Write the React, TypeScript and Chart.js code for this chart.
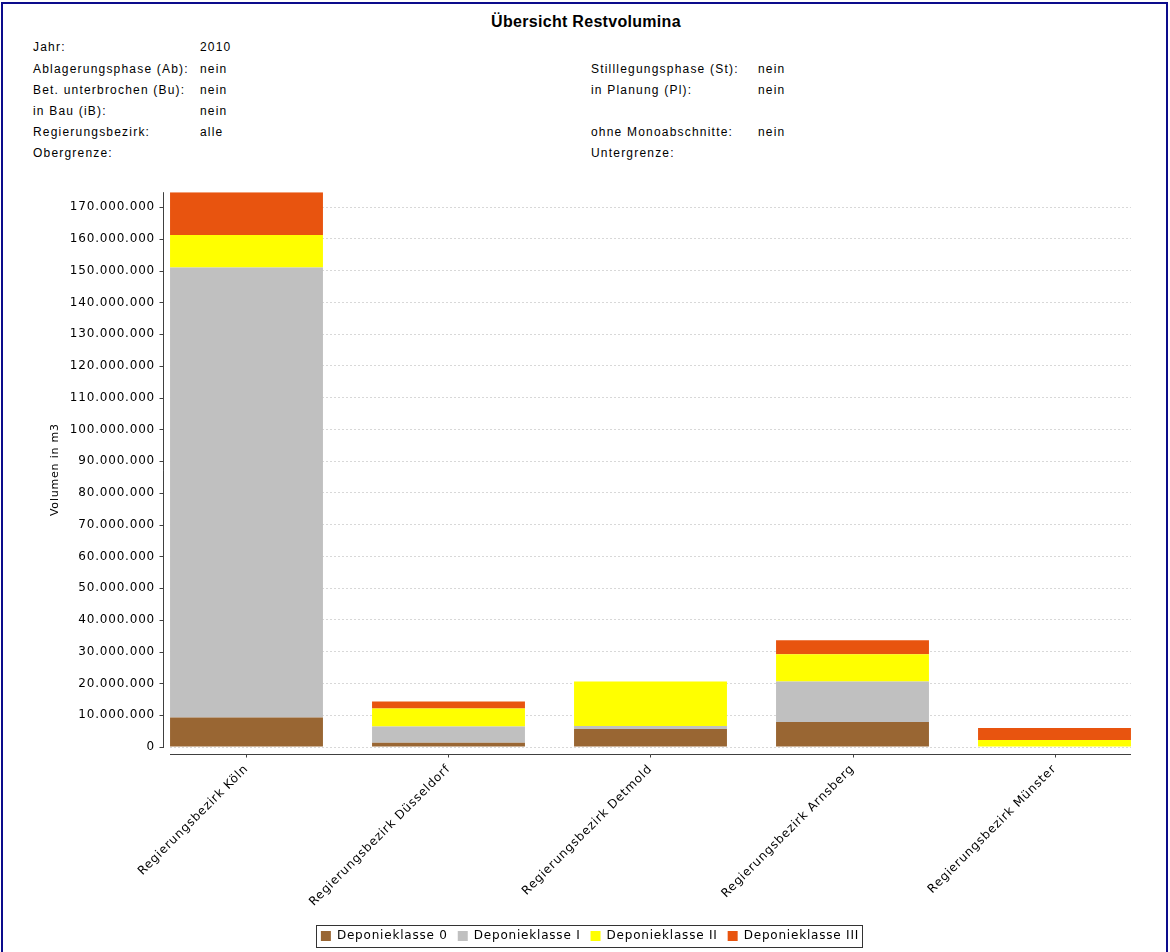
import React, { useEffect, useRef } from 'react';
import { Chart, registerables } from 'chart.js';

Chart.register(...registerables);

const categories = [
  'Regierungsbezirk Köln',
  'Regierungsbezirk Düsseldorf',
  'Regierungsbezirk Detmold',
  'Regierungsbezirk Arnsberg',
  'Regierungsbezirk Münster',
];
const seriesNames = ['Deponieklasse 0', 'Deponieklasse I', 'Deponieklasse II', 'Deponieklasse III'];
const klasse0 = [9300000, 1350000, 5650000, 7850000, 0];
const klasse1 = [141700000, 5100000, 950000, 12750000, 0];
const klasse2 = [10200000, 5650000, 14000000, 8600000, 2200000];
const klasse3 = [13500000, 2200000, 0, 4400000, 3750000];
const seriesColors = ['#996633', '#c0c0c0', '#ffff00', '#e8540f'];

const yMax = 174700000;
const yStep = 10000000;
const yTitle = 'Volumen in m3';
const chartTitle = 'Übersicht Restvolumina';

const headerLeft: [string, string][] = [
  ['Jahr:', '2010'],
  ['Ablagerungsphase (Ab):', 'nein'],
  ['Bet. unterbrochen (Bu):', 'nein'],
  ['in Bau (iB):', 'nein'],
  ['Regierungsbezirk:', 'alle'],
  ['Obergrenze:', ''],
];
const headerRight: [string, string][] = [
  ['', ''],
  ['Stilllegungsphase (St):', 'nein'],
  ['in Planung (Pl):', 'nein'],
  ['', ''],
  ['ohne Monoabschnitte:', 'nein'],
  ['Untergrenze:', ''],
];
const rowCenters = [47, 69, 90, 111, 132, 153];

const fmt = (v: number) =>
  Math.round(v).toString().replace(/\B(?=(\d{3})+(?!\d))/g, '.');

const tickFont = { family: 'DejaVu Sans', size: 12 };
const AXIS_COLOR = '#404040';

const jfreePlugin = {
  id: 'jfreeAxes',
  beforeUpdate(chart: any) {
    chart.ctx.letterSpacing = '0.8px';
  },
  beforeDraw(chart: any) {
    chart.ctx.letterSpacing = '0.8px';
  },
  afterDraw(chart: any) {
    const { ctx, chartArea, scales } = chart;
    ctx.save();
    ctx.strokeStyle = AXIS_COLOR;
    ctx.lineWidth = 1;
    const line = (x1: number, y1: number, x2: number, y2: number) => {
      ctx.beginPath();
      ctx.moveTo(x1, y1);
      ctx.lineTo(x2, y2);
      ctx.stroke();
    };
    const yx = Math.round(chartArea.left) - 6.5;
    line(yx, chartArea.top, yx, chartArea.bottom + 1);
    scales.y.ticks.forEach((t: any) => {
      const py = Math.round(scales.y.getPixelForValue(t.value)) + 0.5;
      line(yx - 4, py, yx, py);
    });
    const xy = Math.round(chartArea.bottom) + 7.5;
    line(chartArea.left, xy, chartArea.right, xy);
    categories.forEach((_, i) => {
      const px = Math.round(scales.x.getPixelForValue(i)) + 0.5;
      line(px, xy, px, xy + 3);
    });
    const hb = chart.legend && chart.legend.legendHitBoxes;
    if (hb && hb.length) {
      const first = hb[0];
      const last = hb[hb.length - 1];
      ctx.strokeStyle = '#333333';
      ctx.strokeRect(
        Math.round(first.left - 5) + 0.5,
        Math.round(first.top - 5) + 0.5,
        Math.round(last.left + last.width + 3 - (first.left - 5)),
        Math.round(first.height + 10)
      );
    }
    ctx.restore();
  },
};

function ChartCanvas() {
  const ref = useRef<HTMLCanvasElement | null>(null);
  useEffect(() => {
    if (!ref.current) return;
    const series = [klasse0, klasse1, klasse2, klasse3];
    const chart = new Chart(ref.current, {
      type: 'bar',
      data: {
        datasets: series.map((vals, si) => ({
          label: seriesNames[si],
          data: vals.map((v, i) => ({ x: i, y: v })),
          backgroundColor: seriesColors[si],
          borderWidth: 0,
          barPercentage: 0.757,
          categoryPercentage: 1,
        })),
      },
      options: {
        responsive: false,
        animation: false,
        layout: { padding: { top: 20, left: 0, right: 0, bottom: 0 } },
        plugins: {
          legend: {
            position: 'bottom',
            labels: {
              boxWidth: 10,
              boxHeight: 10,
              padding: 10,
              font: tickFont,
              color: '#000',
            },
          },
          tooltip: { enabled: false },
          title: { display: false },
        },
        scales: {
          x: {
            type: 'linear',
            min: -0.3787,
            max: 4.3787,
            bounds: 'data',
            offset: false,
            stacked: true,
            grid: { display: false, drawTicks: false, offset: false },
            border: { display: false },
            afterBuildTicks: (s: any) => {
              s.ticks = categories.map((_, i) => ({ value: i }));
            },
            afterFit: (s: any) => {
              s.height = 173;
            },
            ticks: {
              autoSkip: false,
              minRotation: 45,
              maxRotation: 45,
              padding: 15,
              font: tickFont,
              color: '#000',
              callback: (v: any) => categories[v] ?? '',
            },
          },
          y: {
            stacked: true,
            min: 0,
            max: yMax,
            grid: { color: '#d8d8d8', drawTicks: false },
            border: { display: false, dash: [2, 2] },
            afterBuildTicks: (s: any) => {
              const t: any[] = [];
              for (let v = 0; v <= yMax; v += yStep) t.push({ value: v });
              s.ticks = t;
            },
            ticks: {
              padding: 15,
              font: tickFont,
              color: '#000',
              callback: (v: any) => fmt(Number(v)),
            },
            title: {
              display: true,
              text: yTitle,
              padding: { top: 49, bottom: 0 },
              font: { family: 'DejaVu Sans', size: 11 },
              color: '#000',
            },
            afterFit: (s: any) => {
              s.width = 170;
            },
          },
          y2: {
            position: 'right',
            display: true,
            grid: { display: false, drawTicks: false },
            border: { display: false },
            ticks: { display: false },
            afterFit: (s: any) => {
              s.width = 49;
            },
          },
        },
      } as any,
      plugins: [jfreePlugin],
    });
    return () => chart.destroy();
  }, []);
  return (
    <canvas
      ref={ref}
      width={1180}
      height={782}
      style={{ position: 'absolute', left: 0, top: 170, width: 1180, height: 782 }}
    />
  );
}

const headerStyle: React.CSSProperties = {
  position: 'absolute',
  fontFamily: '"Liberation Sans", Arial, sans-serif',
  fontSize: 12,
  letterSpacing: '1.2px',
  lineHeight: '14px',
  whiteSpace: 'nowrap',
  color: '#000',
};

export default function App() {
  const cols = [33, 200, 591, 758];
  const cells: React.ReactNode[] = [];
  rowCenters.forEach((cy, r) => {
    const texts = [headerLeft[r][0], headerLeft[r][1], headerRight[r][0], headerRight[r][1]];
    texts.forEach((t, c) => {
      if (!t) return;
      cells.push(
        <div key={`${r}-${c}`} style={{ ...headerStyle, left: cols[c], top: cy - 7 }}>
          {t}
        </div>
      );
    });
  });
  return (
    <div
      style={{
        position: 'fixed',
        left: 0,
        top: 0,
        width: 1170,
        height: 952,
        overflow: 'hidden',
        background: '#fff',
      }}
    >
      <div
        style={{
          position: 'absolute',
          left: 1,
          top: 2,
          width: 1163,
          height: 1000,
          border: '2px solid #0c0c8c',
        }}
      />
      <div
        style={{
          ...headerStyle,
          left: 0,
          width: 1172,
          textAlign: 'center',
          top: 14,
          fontSize: 16,
          fontWeight: 'bold',
          letterSpacing: '0.3px',
          lineHeight: '16px',
        }}
      >
        {chartTitle}
      </div>
      {cells}
      <ChartCanvas />
    </div>
  );
}
